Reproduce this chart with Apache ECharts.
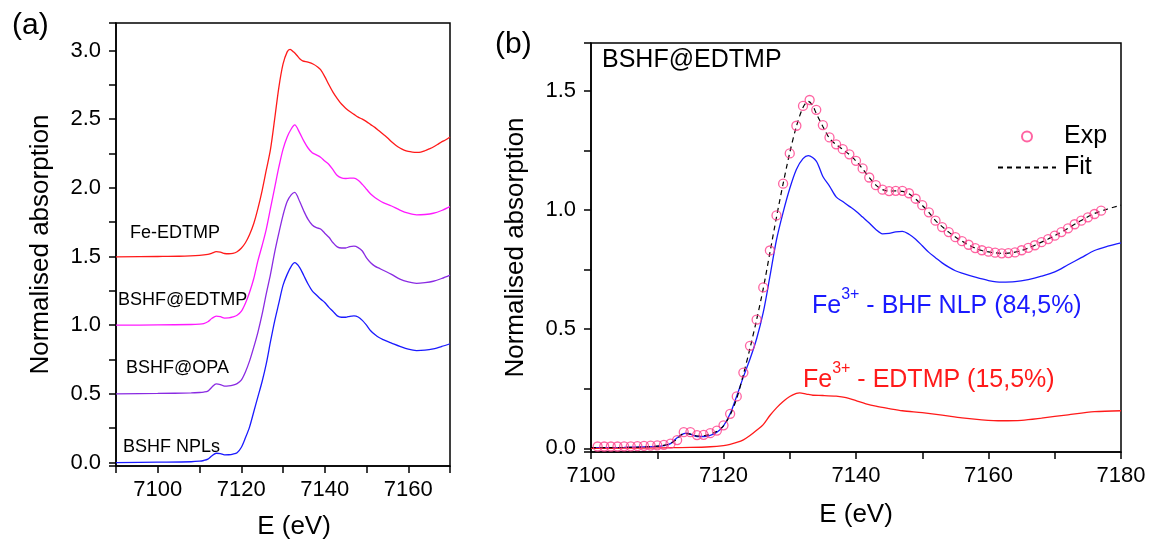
<!DOCTYPE html>
<html><head><meta charset="utf-8">
<script src="https://cdn.jsdelivr.net/npm/echarts@6/dist/echarts.min.js"></script>
<style>html,body{margin:0;padding:0;background:#fff}#c{width:1149px;height:545px}</style>
</head><body><div id="c"></div>
<script>
// ---------- Panel (a): stacked XANES spectra (values as plotted) ----------
const aSeriesNames = ['Fe-EDTMP', 'BSHF@EDTMP', 'BSHF@OPA', 'BSHF NPLs'];
const feEdtmpA = [[7090,1.497],[7100,1.5],[7105,1.502],[7110,1.508],[7112,1.515],[7113,1.525],[7114,1.535],[7115,1.532],[7116,1.522],[7117,1.52],[7118,1.523],[7119,1.535],[7120,1.56],[7121,1.6],[7122,1.66],[7123,1.74],[7124,1.85],[7125,1.98],[7126,2.13],[7127,2.28],[7128,2.5],[7129,2.73],[7130,2.9],[7131,2.99],[7131.7,3.008],[7132.5,2.99],[7133.3,2.965],[7134,2.94],[7134.7,2.925],[7136,2.915],[7137.3,2.9],[7138.3,2.88],[7139,2.86],[7140,2.81],[7141,2.75],[7142,2.695],[7143,2.65],[7144,2.61],[7145,2.58],[7146,2.555],[7147,2.535],[7148,2.515],[7149,2.5],[7150,2.482],[7151,2.46],[7152,2.44],[7153,2.415],[7154,2.39],[7155,2.365],[7156,2.335],[7157,2.31],[7158,2.29],[7159,2.275],[7160,2.265],[7161,2.26],[7162,2.258],[7163,2.26],[7164,2.27],[7165,2.283],[7166,2.297],[7167,2.315],[7168,2.335],[7169,2.35],[7170,2.37]];
const bshfEdtmpA = [[7090,1.0],[7100,1.002],[7108,1.005],[7110,1.008],[7111,1.012],[7112,1.025],[7113,1.05],[7114,1.066],[7115,1.062],[7116,1.052],[7117,1.053],[7118,1.06],[7119,1.072],[7120,1.1],[7121,1.16],[7122,1.24],[7123,1.34],[7124,1.47],[7125,1.58],[7126,1.7],[7127,1.85],[7128,2.0],[7129,2.15],[7130,2.28],[7131,2.37],[7132,2.43],[7132.8,2.458],[7134,2.4],[7135,2.34],[7136,2.29],[7137,2.255],[7138,2.24],[7139,2.223],[7140,2.195],[7141,2.17],[7142,2.13],[7143,2.09],[7144,2.072],[7145,2.068],[7146,2.07],[7147,2.07],[7148,2.055],[7149,2.025],[7150,1.99],[7151,1.955],[7152,1.93],[7153,1.91],[7154,1.893],[7156,1.868],[7158,1.838],[7160,1.815],[7162,1.803],[7164,1.806],[7166,1.815],[7168,1.835],[7170,1.863]];
const bshfOpaA = [[7090,0.5],[7100,0.503],[7108,0.507],[7110,0.51],[7111,0.513],[7112,0.52],[7113,0.55],[7114,0.573],[7115,0.568],[7116,0.556],[7117,0.558],[7118,0.564],[7119,0.575],[7120,0.6],[7121,0.66],[7122,0.74],[7123,0.84],[7124,0.95],[7125,1.08],[7126,1.23],[7127,1.37],[7128,1.53],[7129,1.67],[7130,1.8],[7131,1.9],[7132,1.95],[7132.8,1.967],[7134,1.9],[7135,1.83],[7136,1.77],[7137,1.73],[7138,1.71],[7139,1.7],[7140,1.67],[7141,1.64],[7142,1.6],[7143,1.57],[7144,1.562],[7145,1.562],[7146,1.572],[7147,1.575],[7148,1.565],[7149,1.54],[7150,1.49],[7151,1.455],[7152,1.43],[7153,1.415],[7154,1.4],[7156,1.37],[7158,1.335],[7160,1.315],[7162,1.305],[7164,1.31],[7166,1.32],[7168,1.34],[7170,1.365]];
const bshfNplsA = [[7090,0.0],[7100,0.003],[7108,0.006],[7110,0.01],[7111,0.015],[7112,0.025],[7113,0.05],[7114,0.068],[7115,0.065],[7116,0.056],[7117,0.057],[7118,0.062],[7119,0.072],[7120,0.11],[7121,0.18],[7122,0.26],[7123,0.37],[7124,0.48],[7125,0.59],[7126,0.72],[7127,0.88],[7128,1.03],[7129,1.16],[7130,1.29],[7131,1.37],[7132,1.43],[7132.8,1.455],[7134,1.42],[7135,1.36],[7136,1.3],[7137,1.25],[7138,1.22],[7139,1.19],[7140,1.165],[7141,1.13],[7142,1.1],[7143,1.068],[7144,1.058],[7145,1.058],[7146,1.065],[7147,1.068],[7148,1.06],[7149,1.035],[7150,1.0],[7151,0.96],[7152,0.932],[7153,0.91],[7154,0.895],[7155,0.882],[7156,0.87],[7158,0.846],[7160,0.825],[7162,0.815],[7164,0.818],[7166,0.828],[7168,0.845],[7170,0.865]];

// ---------- Panel (b): BSHF@EDTMP linear combination fit ----------
const expE = [7101,7102,7103,7104,7105,7106,7107,7108,7109,7110,7111,7112,7113,7114,7115,7116,7117,7118,7119,7120,7121,7122,7123,7124,7125,7126,7127,7128,7129,7130,7131,7132,7133,7134,7135,7136,7137,7138,7139,7140,7141,7142,7143,7144,7145,7146,7147,7148,7149,7150,7151,7152,7153,7154,7155,7156,7157,7158,7159,7160,7161,7162,7163,7164,7165,7166,7167,7168,7169,7170,7171,7172,7173,7174,7175,7176,7177];
const expMu = [0.008,0.008,0.008,0.008,0.009,0.009,0.01,0.011,0.012,0.013,0.015,0.02,0.035,0.068,0.068,0.056,0.057,0.064,0.075,0.097,0.145,0.218,0.318,0.43,0.54,0.675,0.83,0.977,1.11,1.237,1.353,1.436,1.461,1.42,1.356,1.304,1.275,1.255,1.233,1.206,1.174,1.136,1.104,1.085,1.079,1.08,1.08,1.07,1.047,1.02,0.99,0.955,0.928,0.907,0.886,0.869,0.854,0.84,0.831,0.825,0.821,0.818,0.819,0.822,0.831,0.841,0.852,0.865,0.878,0.892,0.907,0.923,0.94,0.955,0.969,0.983,0.997];
const fitB = [[7100,0.003],[7105,0.004],[7108,0.006],[7110,0.01],[7111,0.013],[7112,0.02],[7113,0.04],[7114,0.062],[7115,0.06],[7116,0.052],[7117,0.053],[7118,0.06],[7119,0.072],[7120,0.095],[7121,0.14],[7122,0.21],[7123,0.31],[7124,0.42],[7125,0.54],[7126,0.67],[7127,0.82],[7128,0.97],[7129,1.11],[7130,1.24],[7131,1.35],[7132,1.43],[7132.8,1.455],[7133.4,1.44],[7134,1.405],[7135,1.35],[7136,1.3],[7137,1.274],[7138,1.254],[7139,1.232],[7140,1.205],[7141,1.172],[7142,1.136],[7143,1.104],[7144,1.085],[7145,1.079],[7146,1.08],[7147,1.078],[7148,1.068],[7149,1.046],[7150,1.019],[7151,0.99],[7152,0.955],[7153,0.93],[7154,0.907],[7155,0.887],[7156,0.869],[7157,0.853],[7158,0.84],[7159,0.83],[7160,0.824],[7161,0.82],[7162,0.818],[7163,0.819],[7164,0.823],[7165,0.83],[7166,0.84],[7167,0.852],[7168,0.865],[7169,0.878],[7170,0.892],[7172,0.923],[7174,0.956],[7176,0.985],[7178,1.004],[7180,1.02]];
const bhfNlpB = [[7100,0.003],[7105,0.004],[7108,0.006],[7110,0.008],[7111,0.012],[7112,0.02],[7113,0.045],[7114,0.062],[7114.5,0.064],[7115,0.06],[7116,0.05],[7117,0.05],[7118,0.055],[7119,0.068],[7120,0.095],[7121,0.145],[7122,0.22],[7123,0.3],[7124,0.375],[7125,0.46],[7126,0.57],[7127,0.72],[7128,0.875],[7129,0.99],[7130,1.09],[7131,1.17],[7132,1.215],[7132.8,1.228],[7134,1.205],[7135,1.14],[7136,1.1],[7137,1.055],[7138,1.035],[7139,1.015],[7140,0.995],[7141,0.97],[7142,0.945],[7143,0.918],[7144,0.9],[7145,0.902],[7146,0.908],[7147,0.91],[7148,0.898],[7149,0.877],[7150,0.85],[7151,0.822],[7152,0.8],[7153,0.778],[7154,0.76],[7155,0.745],[7156,0.735],[7158,0.718],[7160,0.704],[7162,0.697],[7164,0.699],[7166,0.708],[7168,0.722],[7170,0.74],[7172,0.77],[7174,0.8],[7176,0.83],[7178,0.848],[7180,0.862]];
const edtmpB = [[7100,0.0],[7105,0.001],[7110,0.002],[7112,0.003],[7115,0.004],[7118,0.007],[7120,0.012],[7121,0.017],[7122,0.025],[7123,0.036],[7124,0.054],[7125,0.076],[7126,0.1],[7127,0.138],[7128,0.17],[7129,0.197],[7130,0.218],[7131,0.231],[7131.5,0.233],[7132.5,0.228],[7133.5,0.223],[7135,0.222],[7137,0.219],[7138.5,0.213],[7140,0.2],[7141.5,0.187],[7143,0.177],[7145,0.167],[7147,0.158],[7150,0.15],[7153,0.14],[7156,0.128],[7159,0.12],[7162,0.116],[7165,0.118],[7168,0.127],[7172,0.141],[7176,0.154],[7180,0.158]];

// axis ranges and number of major divisions (gives 20 eV and 0.5 steps)
const aXRange = [7090, 7170], aYRange = [-0.025, 3.2];
const bXRange = [7100, 7180], bYRange = [-0.015, 1.7];
const aYSplits = 5, bYSplits = 3, xSplits = 4;

const FONT = '"Liberation Sans", Arial, sans-serif';
const expData = expE.map((e, i) => [e, expMu[i]]);
const TICK = { show: true, inside: false, length: 7, lineStyle: { color: '#000', width: 1.5 } };
const MINOR = { show: true, splitNumber: 2, length: 7, lineStyle: { color: '#000', width: 1.5 } };

function xAx(grid, range, showEnds, gap, pad) {
  return {
    type: 'value', gridIndex: grid, min: range[0], max: range[1], splitNumber: xSplits,
    axisLine: { show: true, onZero: false, lineStyle: { color: '#000', width: 1.5 } },
    axisTick: TICK, minorTick: MINOR,
    axisLabel: { show: true, showMinLabel: showEnds, showMaxLabel: showEnds, fontSize: 22, color: '#000',
      fontFamily: FONT, margin: 13, formatter: v => String(v) },
    splitLine: { show: false }, minorSplitLine: { show: false },
    name: 'E (eV)', nameLocation: 'middle', nameGap: gap,
    nameTextStyle: { fontSize: 26, color: '#000', fontFamily: FONT, padding: pad }
  };
}
function yAx(grid, range, splits) {
  return {
    type: 'value', gridIndex: grid, min: range[0], max: range[1], splitNumber: splits,
    axisLine: { show: true, onZero: false, lineStyle: { color: '#000', width: 1.5 } },
    axisTick: TICK, minorTick: MINOR,
    axisLabel: { show: true, showMinLabel: false, showMaxLabel: false, fontSize: 22, color: '#000',
      fontFamily: FONT, margin: 15, formatter: v => Number(v).toFixed(1) },
    splitLine: { show: false }, minorSplitLine: { show: false },
    name: 'Normalised absorption', nameLocation: 'middle', nameGap: 62,
    nameTextStyle: { fontSize: 26, color: '#000', fontFamily: FONT }
  };
}
function line(name, data, color, xi, extra) {
  return Object.assign({
    type: 'line', name: name, data: data, xAxisIndex: xi, yAxisIndex: xi,
    symbol: 'none', showSymbol: false, smooth: 0.3,
    lineStyle: { color: color, width: 1.3 }, itemStyle: { color: color }, z: 3
  }, extra || {});
}
function txt(x, y, text, size, color) {
  return { type: 'text', x: x, y: y, z: 10,
    style: { text: text, fontSize: size, fontFamily: FONT, fill: color, align: 'left', verticalAlign: 'middle' } };
}
function supTxt(x, y, parts, color) {
  return { type: 'text', x: x, y: y, z: 10,
    style: { text: '{a|' + parts[0] + '}{s|' + parts[1] + '}{a|' + parts[2] + '}',
      align: 'left', verticalAlign: 'middle',
      rich: { a: { fontSize: 25, fontFamily: FONT, fill: color, verticalAlign: 'bottom', lineHeight: 32 },
              s: { fontSize: 16, fontFamily: FONT, fill: color, verticalAlign: 'top', lineHeight: 32 } } } };
}

const chart = echarts.init(document.getElementById('c'), null, { renderer: 'canvas' });
chart.setOption({
  animation: false,
  backgroundColor: '#fff',
  grid: [
    { left: 116, top: 23, width: 334, height: 447, show: true, borderColor: '#000', borderWidth: 1.5, backgroundColor: 'transparent' },
    { left: 591, top: 43, width: 530, height: 409, show: true, borderColor: '#000', borderWidth: 1.5, backgroundColor: 'transparent' }
  ],
  xAxis: [ xAx(0, aXRange, false, 48, [0, 0, 0, 22]), xAx(1, bXRange, true, 50, [0, 0, 0, 0]) ],
  yAxis: [ yAx(0, aYRange, aYSplits), yAx(1, bYRange, bYSplits) ],
  legend: {
    orient: 'vertical', left: 992, top: 119, itemWidth: 58, itemHeight: 10, itemGap: 6,
    textStyle: { fontSize: 25, color: '#000', fontFamily: FONT, padding: [0, 0, 0, 3] },
    data: ['Exp', { name: 'Fit', itemStyle: { opacity: 0 } }]
  },
  series: [
    line(aSeriesNames[0], feEdtmpA, '#ff1a1a', 0),
    line(aSeriesNames[1], bshfEdtmpA, '#ff1aff', 0),
    line(aSeriesNames[2], bshfOpaA, '#8a2be2', 0),
    line(aSeriesNames[3], bshfNplsA, '#1a1aff', 0),
    line('Fe3+ - BHF NLP', bhfNlpB, '#1a1aff', 1),
    line('Fe3+ - EDTMP', edtmpB, '#ff1a1a', 1),
    line('Fit', fitB, '#000', 1, { lineStyle: { color: '#000', width: 1.2, type: [5, 4] }, z: 4 }),
    { type: 'scatter', name: 'Exp', data: expData, xAxisIndex: 1, yAxisIndex: 1, symbol: 'circle', symbolSize: 9,
      itemStyle: { color: 'rgba(255,255,255,0)', borderColor: '#ff3d8b', borderWidth: 1.3 }, z: 5 }
  ],
  graphic: [
    txt(12, 26, '(a)', 30, '#000'),
    txt(495, 45, '(b)', 30, '#000'),
    txt(130, 233, 'Fe-EDTMP', 18, '#000'),
    txt(118, 300, 'BSHF@EDTMP', 18, '#000'),
    txt(126, 368, 'BSHF@OPA', 18, '#000'),
    txt(123, 447, 'BSHF NPLs', 18, '#000'),
    txt(602, 60, 'BSHF@EDTMP', 25, '#000'),
    supTxt(812, 303, ['Fe', '3+', ' - BHF NLP (84,5%)'], '#1a1aff'),
    supTxt(803, 377, ['Fe', '3+', ' - EDTMP (15,5%)'], '#ff1a1a')
  ]
});
</script></body></html>
